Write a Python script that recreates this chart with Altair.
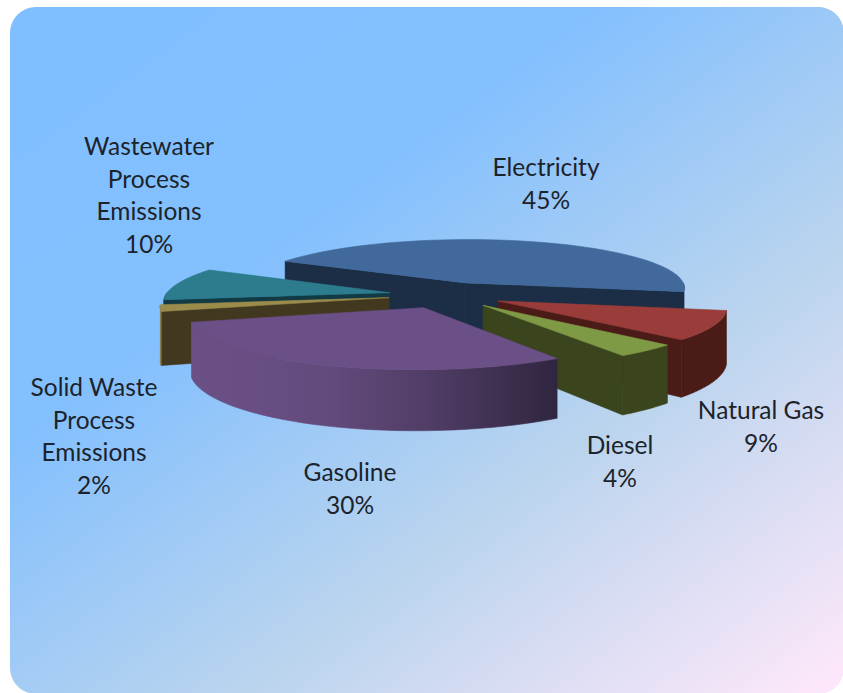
import math

import altair as alt
import pandas as pd

# Slice data, clockwise from the back-left edge of the pie
NAMES = ["Electricity", "Natural Gas", "Diesel", "Gasoline",
         "Solid Waste\nProcess\nEmissions", "Wastewater\nProcess\nEmissions"]
SHARES = [45, 9, 4, 30, 2, 10]

# Tops, radial cut faces and outer rims of the slices
TOP_COLORS = ["#41699C", "#9A3D3A", "#7F9A45", "#6B4F87", "#9C8C4C", "#2C7C8E"]
CUT_COLORS = ["#1B2E45", "#4A1B17", "#3A451E", "#3A2D4C", "#423820", "#123A44"]
RIM_COLORS = ["#1B2E45", "#4A1B17", "#3A451E", None, "#8C7C40", "#123A44"]
GASOLINE_RIM = {
    "gradient": "linear", "x1": 0, "y1": 0, "x2": 1, "y2": 0,
    "stops": [
        {"offset": 0.0, "color": "#6B5086"},
        {"offset": 0.35, "color": "#644B7E"},
        {"offset": 0.65, "color": "#503D66"},
        {"offset": 1.0, "color": "#302640"},
    ],
}
PANEL_FILL = {
    "gradient": "linear", "x1": 0.14, "y1": 0, "x2": 1, "y2": 0.95,
    "stops": [
        {"offset": 0.0, "color": "#80BFFF"},
        {"offset": 0.3, "color": "#84C0FE"},
        {"offset": 0.65, "color": "#BAD4EE"},
        {"offset": 1.0, "color": "#FBE7F9"},
    ],
}

# Back slices are painted first so the nearer ones overlap them
PAINT_ORDER = [0, 1, 2, 5, 4, 3]

# Perspective of the tilted pie, in pie radii
START_ANGLE = 151.8
EXPLODE = 0.257
TILT = 0.229
DEPTH = 0.232
PERSPECTIVE = 0.12
SKEW = 0.022

WIDTH, HEIGHT = 843, 693
CENTER_X, CENTER_Y, RADIUS_PX = 446, 295, 224

x_scale = alt.Scale(domain=[-CENTER_X / RADIUS_PX, (WIDTH - CENTER_X) / RADIUS_PX],
                    nice=False, zero=False)
y_scale = alt.Scale(domain=[-(HEIGHT - CENTER_Y) / RADIUS_PX, CENTER_Y / RADIUS_PX],
                    nice=False, zero=False)


def project(px, py, z=0.0):
    w = 1 + PERSPECTIVE * py
    return px / w + SKEW * py, (TILT * py - DEPTH * z) / w


def arc_points(ox, oy, a0, a1, z=0.0, n=48):
    pts = []
    for i in range(n + 1):
        a = math.radians(a0 + (a1 - a0) * i / n)
        pts.append(project(ox + math.cos(a), oy + math.sin(a), z))
    return pts


def polygon(points, fill):
    frame = pd.DataFrame(points, columns=["x", "y"])
    frame["i"] = range(len(frame))
    return alt.Chart(frame).mark_line(
        interpolate="linear-closed", fill=fill, stroke=fill, strokeWidth=0.6
    ).encode(
        x=alt.X("x:Q", scale=x_scale, axis=None),
        y=alt.Y("y:Q", scale=y_scale, axis=None),
        order=alt.Order("i:Q"),
    )


def slice_layers(index, hi, lo):
    mid = math.radians((hi + lo) / 2)
    ox, oy = EXPLODE * math.cos(mid), EXPLODE * math.sin(mid)
    layers = []
    # A cut face shows when its outward normal points towards the viewer
    for edge, normal in ((hi, hi + 90), (lo, lo - 90)):
        if math.sin(math.radians(normal)) < -0.01:
            a = math.radians(edge)
            ex, ey = ox + math.cos(a), oy + math.sin(a)
            layers.append(polygon(
                [project(ox, oy), project(ex, ey), project(ex, ey, 1), project(ox, oy, 1)],
                CUT_COLORS[index]))
    # Only the front half of the rim can be seen
    a0, a1 = max(lo, 180) if lo >= 0 else lo, min(hi, 360)
    if lo < 0:
        a0, a1 = lo, min(hi, 0)
    if a1 > a0:
        rim = RIM_COLORS[index] or GASOLINE_RIM
        layers.append(polygon(arc_points(ox, oy, a0, a1) + arc_points(ox, oy, a1, a0, 1), rim))
    layers.append(polygon([project(ox, oy)] + arc_points(ox, oy, hi, lo), TOP_COLORS[index]))
    return layers


# Turn the shares into angle ranges, running clockwise
ranges, angle = [], START_ANGLE
for share in SHARES:
    ranges.append((angle, angle - share * 3.6))
    angle -= share * 3.6

panel = alt.Chart(pd.DataFrame({"p": [0]})).mark_rect(
    fill=PANEL_FILL, cornerRadius=26
).encode(x=alt.value(10), x2=alt.value(WIDTH + 1), y=alt.value(7), y2=alt.value(HEIGHT + 1))

layers = [panel]
for idx in PAINT_ORDER:
    hi, lo = ranges[idx]
    if lo < -180:
        hi, lo = hi + 360, lo + 360
    if hi <= 0:
        hi, lo = hi + 360, lo + 360
    layers.extend(slice_layers(idx, hi, lo))

# Centre and first-line height of each label, in page pixels
LABEL_X = [546, 761, 620, 350, 94, 149]
LABEL_Y = [169, 412, 447, 474, 389, 148]
for name, share, lx, ly in zip(NAMES, SHARES, LABEL_X, LABEL_Y):
    frame = pd.DataFrame({"label": [f"{name}\n{share}%"]})
    layers.append(
        alt.Chart(frame).mark_text(
            font="Lato", fontSize=24.5, color="#1C232B", align="center",
            baseline="middle", lineBreak="\n", lineHeight=32.7,
        ).encode(x=alt.value(lx), y=alt.value(ly), text="label:N")
    )

chart = alt.layer(*layers).properties(
    width=WIDTH, height=HEIGHT, padding=0, background="#FFFFFF",
    autosize=alt.AutoSizeParams(type="none"),
).configure_view(stroke=None)

chart.save("out.html", embed_options={"renderer": "svg", "actions": False})
